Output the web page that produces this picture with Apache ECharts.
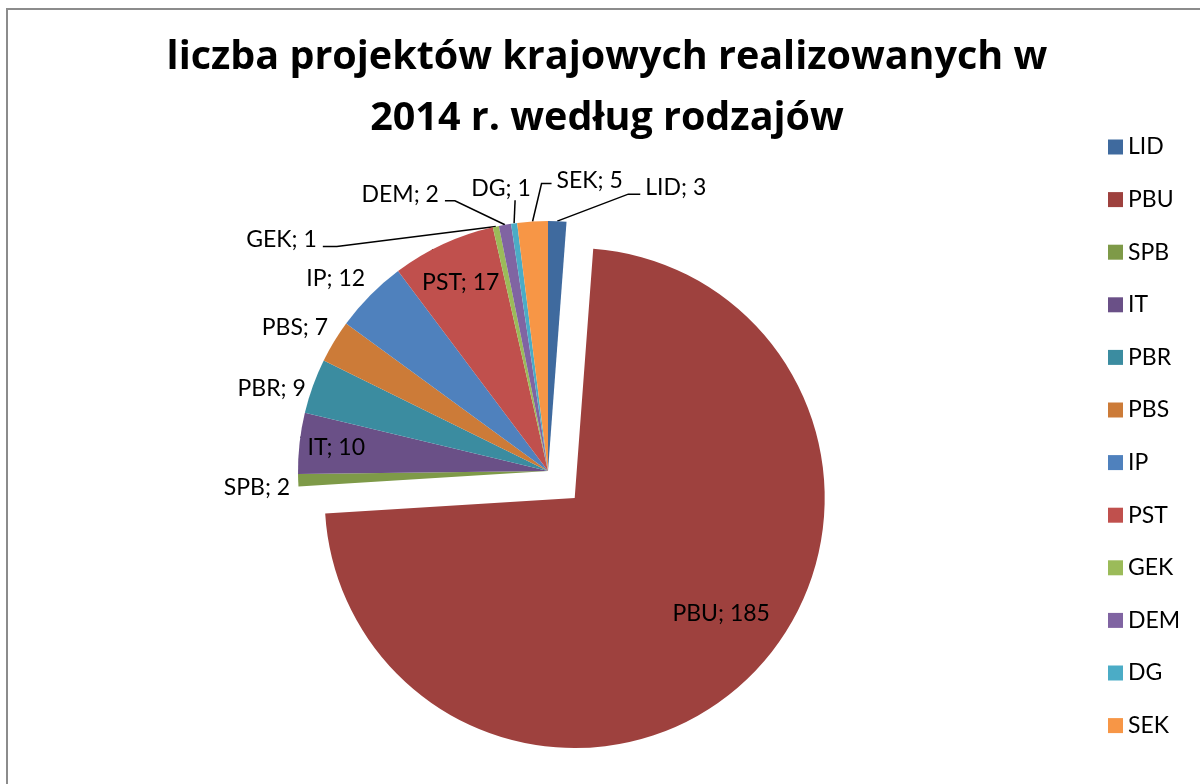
<!DOCTYPE html>
<html>
<head>
<meta charset="utf-8">
<script src="https://cdn.jsdelivr.net/npm/echarts@6/dist/echarts.min.js"></script>
<style>
  html, body { margin: 0; padding: 0; background: #fff; }
  #main { width: 1200px; height: 784px; }
</style>
</head>
<body>
<div id="main"></div>
<script>
// dane z wykresu
var names = ['LID', 'PBU', 'SPB', 'IT', 'PBR', 'PBS', 'IP', 'PST', 'GEK', 'DEM', 'DG', 'SEK'];
var values = [3, 185, 2, 10, 9, 7, 12, 17, 1, 2, 1, 5];
var colors = ['#3F6A9E', '#9E413E', '#7E9A48', '#6A5087', '#3B8CA0', '#CC7B38',
              '#4F81BD', '#C0504D', '#9BBB59', '#8064A2', '#4BACC6', '#F79646'];
var exploded = 'PBU';

var pieCenter = [548, 471];
var pieRadius = 250;
var font = 'Lato, "Open Sans", sans-serif';

// labels drawn inside the slice: extra radius (fraction of r) beyond the default middle
var insideShift = { PST: 0.32, IT: 0.34 };
// the exploded slice keeps its label position in the select state,
// so its label is pushed right with padding and down with an empty first line
var explodedLabel = { padding: [0, 0, 0, 113], lineHeight: 48 };
// labels outside: bend point and tail of the leader line, text offset from line end
var outsideLabels = {
  LID: { bend: [71, -27], tail: 12, text: [5, -7], align: 'left' },
  SEK: { bend: [9, -38], tail: 10, text: [5, -3], align: 'left' },
  DG:  { bend: [1, -23], tail: 0, text: [-14, -12], align: 'center' },
  DEM: { bend: [-50, -24], tail: -10, text: [-6, -6], align: 'right' },
  GEK: { bend: [-159, 20], tail: -14, text: [-6, -7], align: 'right' },
  IP:  { bend: [0, 0], tail: 0, text: [-5, -17], align: 'right' },
  PBS: { bend: [0, 0], tail: 0, text: [-6, -14], align: 'right' },
  PBR: { bend: [0, 0], tail: 0, text: [-7, 2], align: 'right' },
  SPB: { bend: [0, 0], tail: 0, text: [-8, 7], align: 'right' }
};

var chartDom = document.getElementById('main');
var myChart = echarts.init(chartDom);

var pieData = names.map(function (n, i) {
  var item = {
    name: n,
    value: values[i],
    itemStyle: { color: colors[i] },
    select: { itemStyle: { color: colors[i], borderWidth: 0 } }
  };
  if (insideShift[n] != null) {
    item.label = { position: 'inside' };
  }
  if (n === exploded) {
    item.selected = true;
    item.label = {
      position: 'inside',
      formatter: '\n{b}; {c}',
      padding: explodedLabel.padding,
      lineHeight: explodedLabel.lineHeight
    };
  }
  return item;
});

var option = {
  animation: false,
  backgroundColor: '#ffffff',
  graphic: [{
    type: 'rect',
    shape: { x: 7, y: 9, width: 1300, height: 900 },
    style: { fill: 'none', stroke: '#8c8c8c', lineWidth: 2 },
    silent: true
  }],
  title: {
    text: 'liczba projektów krajowych realizowanych w\n2014 r. według rodzajów',
    left: 607,
    top: 27,
    padding: 0,
    textAlign: 'center',
    textStyle: {
      fontFamily: '"Open Sans", Lato, sans-serif',
      fontWeight: 'bold',
      fontSize: 39.5,
      lineHeight: 61,
      color: '#000'
    }
  },
  legend: {
    orient: 'vertical',
    left: 1103,
    top: 130,
    icon: 'rect',
    itemWidth: 15,
    itemHeight: 15,
    itemGap: 28.6,
    selectedMode: false,
    data: names,
    textStyle: { fontFamily: font, fontSize: 23, lineHeight: 24, color: '#000' }
  },
  series: [{
    name: 'projekty',
    type: 'pie',
    center: pieCenter,
    radius: pieRadius,
    startAngle: 90,
    clockwise: true,
    selectedMode: 'single',
    selectedOffset: 38,
    avoidLabelOverlap: false,
    itemStyle: { borderWidth: 0 },
    emphasis: { disabled: true },
    label: {
      show: true,
      position: 'outside',
      formatter: '{b}; {c}',
      fontFamily: font,
      fontSize: 23,
      color: '#000'
    },
    labelLine: {
      show: true,
      length: 10,
      length2: 10,
      lineStyle: { color: '#000', width: 1.5 }
    },
    labelLayout: function (params) {
      var n = names[params.dataIndex];
      var r = params.labelRect;
      if (insideShift[n] != null) {
        var cx = r.x + r.width / 2, cy = r.y + r.height / 2;
        var vx = cx - pieCenter[0], vy = cy - pieCenter[1];
        var len = Math.sqrt(vx * vx + vy * vy) || 1;
        var s = insideShift[n] * pieRadius;
        return { x: cx + vx / len * s, y: cy + vy / len * s, align: 'center', verticalAlign: 'middle' };
      }
      var cfg = outsideLabels[n];
      if (!cfg || !params.labelLinePoints) return {};
      var p0 = params.labelLinePoints[0];
      var p1 = [p0[0] + cfg.bend[0], p0[1] + cfg.bend[1]];
      var p2 = [p1[0] + cfg.tail, p1[1]];
      return {
        x: p2[0] + cfg.text[0],
        y: p2[1] + cfg.text[1],
        align: cfg.align,
        verticalAlign: 'middle',
        labelLinePoints: [p0, p1, p2]
      };
    },
    data: pieData
  }]
};

option && myChart.setOption(option);
</script>
</body>
</html>
